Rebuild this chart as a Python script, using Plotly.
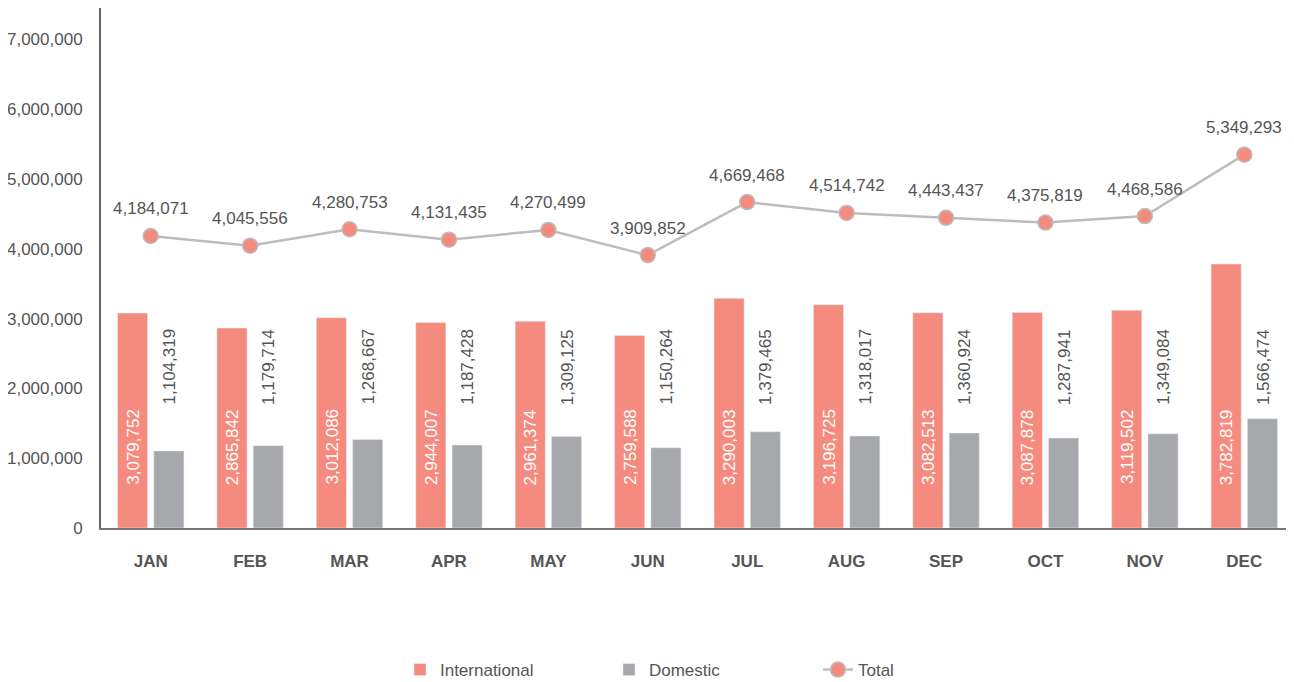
import plotly.graph_objects as go

months = ["JAN", "FEB", "MAR", "APR", "MAY", "JUN", "JUL", "AUG", "SEP", "OCT", "NOV", "DEC"]
international = [3079752, 2865842, 3012086, 2944007, 2961374, 2759588, 3290003, 3196725, 3082513, 3087878, 3119502, 3782819]
domestic = [1104319, 1179714, 1268667, 1187428, 1309125, 1150264, 1379465, 1318017, 1360924, 1287941, 1349084, 1566474]
total = [4184071, 4045556, 4280753, 4131435, 4270499, 3909852, 4669468, 4514742, 4443437, 4375819, 4468586, 5349293]
y_ticks = [0, 1000000, 2000000, 3000000, 4000000, 5000000, 6000000, 7000000]

RED = "#F58B7E"
GRAY = "#A7A8AB"
LINE = "#BDBDBD"
TXT = "#555555"
FONT = "Liberation Sans, Arial, sans-serif"

def fmt(v):
    return f"{v:,}"

fig = go.Figure()
fig.add_trace(go.Bar(name="International", x=months, y=international, marker_color=RED,
                     hoverinfo="y"))
fig.add_trace(go.Bar(name="Domestic", x=months, y=domestic, marker_color=GRAY,
                     hoverinfo="y"))
fig.add_trace(go.Scatter(name="Total", x=months, y=total, mode="lines+markers",
                         line=dict(color=LINE, width=2.5),
                         marker=dict(color=RED, size=15, line=dict(color=LINE, width=1.5))))

annotations = []
for m, iv, dv, tv in zip(months, international, domestic, total):
    annotations.append(dict(x=m, y=1160000, xref="x", yref="y", text=fmt(iv), showarrow=False,
                            textangle=-90, xshift=-18, font=dict(size=17, color="white", family=FONT)))
    annotations.append(dict(x=m, y=2310000, xref="x", yref="y", text=fmt(dv), showarrow=False,
                            textangle=-90, xshift=19, font=dict(size=17, color=TXT, family=FONT)))
    annotations.append(dict(x=m, y=tv, xref="x", yref="y", text=fmt(tv), showarrow=False,
                            yanchor="middle", yshift=27, font=dict(size=17, color=TXT, family=FONT)))

# page body has an 8px default margin, so the figure is sized to the visible area
fig.update_layout(
    width=1286, height=674,
    margin=dict(l=93, r=0, t=0, b=154, autoexpand=False),
    paper_bgcolor="white", plot_bgcolor="white",
    barmode="group", bargap=0.27, bargroupgap=0.17,
    font=dict(family=FONT, color=TXT, size=17),
    showlegend=True,
    legend=dict(orientation="h", xref="container", yref="container", x=0.3048, xanchor="left",
                y=0.0178, yanchor="middle", entrywidth=164, entrywidthmode="pixels",
                font=dict(size=17, color=TXT, family=FONT), traceorder="normal"),
    annotations=annotations,
    xaxis=dict(range=[-0.5, len(months) - 0.5], showline=True, linecolor="#777777", linewidth=2,
               showgrid=False, ticks="", automargin=False, ticklabelstandoff=17,
               tickfont=dict(size=17, color=TXT, family=FONT, weight="bold")),
    yaxis=dict(range=[0, 7450000], tickvals=y_ticks, ticktext=[fmt(v) for v in y_ticks],
               showline=True, linecolor="#666666", linewidth=2, showgrid=False, zeroline=False,
               automargin=False, ticks="", ticklabelstandoff=13,
               tickfont=dict(size=17, color=TXT, family=FONT)),
)

fig.write_html("out.html")
